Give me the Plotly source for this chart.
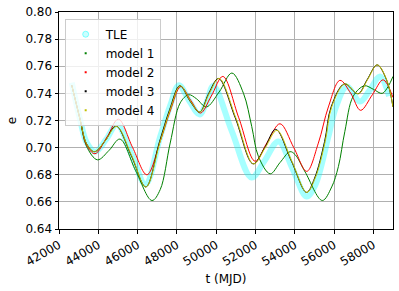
import plotly.graph_objects as go

# ---- data ----
tle_t = [42650, 43070, 43400, 43850, 44400, 44950, 45700, 46400, 47150, 47660, 48100,
         48650, 49150, 49500, 49860, 50800, 51800, 52450, 53170, 53900, 54600, 55030,
         55710, 56100, 56650, 57320, 57800, 58340, 58800]
tle_e = [0.748, 0.721, 0.704, 0.697, 0.706, 0.717, 0.695, 0.673, 0.708, 0.731, 0.746,
         0.734, 0.7245, 0.733, 0.7456, 0.712, 0.678, 0.690, 0.7046, 0.684, 0.664, 0.672,
         0.708, 0.730, 0.745, 0.734, 0.742, 0.7525, 0.738]

m1_t = [42650, 43070, 43400, 43960, 44550, 45100, 45900, 46730, 47150, 47660, 48170,
        48600, 49000, 49500, 50150, 50800, 51390, 51810, 52150, 52750, 53250, 53760,
        54020, 54530, 55400, 55880, 56220, 56550, 56980, 57550, 58000, 58450, 58750, 59000]
m1_e = [0.746, 0.721, 0.701, 0.691, 0.698, 0.7063, 0.683, 0.661, 0.669, 0.7034, 0.733,
        0.739, 0.736, 0.730, 0.741, 0.755, 0.740, 0.7156, 0.6935, 0.6807, 0.689, 0.697,
        0.6948, 0.682, 0.661, 0.671, 0.686, 0.712, 0.738, 0.7456, 0.743, 0.740, 0.745, 0.7525]

m2_t = [42650, 43070, 43400, 43830, 44450, 45020, 45750, 46475, 47150, 47660, 48200,
        48700, 49200, 49750, 50340, 51150, 51980, 52600, 53250, 53950, 54610, 55200,
        55710, 56300, 56850, 57350, 57950, 58500, 59000]
m2_e = [0.746, 0.721, 0.702, 0.6955, 0.708, 0.721, 0.700, 0.680, 0.7046, 0.727, 0.745,
        0.735, 0.7255, 0.738, 0.7525, 0.722, 0.690, 0.704, 0.7176, 0.700, 0.6825, 0.7033,
        0.730, 0.7496, 0.740, 0.7275, 0.739, 0.750, 0.737]

m3_t = [42650, 43070, 43400, 43800, 44350, 44900, 45680, 46420, 47120, 47630, 48150,
        48680, 49160, 49620, 50120, 50970, 51880, 52470, 53030, 53830, 54600, 55010,
        55520, 55850, 56530, 57220, 57680, 58190, 58670, 59000]
m3_e = [0.746, 0.721, 0.703, 0.697, 0.705, 0.716, 0.694, 0.671, 0.7046, 0.728, 0.7457,
        0.734, 0.7262, 0.740, 0.751, 0.722, 0.688, 0.700, 0.7135, 0.690, 0.667, 0.6776,
        0.7046, 0.730, 0.747, 0.7397, 0.750, 0.761, 0.750, 0.730]

m4_t = [42650, 43070, 43400, 43800, 44350, 44930, 45700, 46420, 47150, 47660, 48170,
        48700, 49170, 49650, 50150, 51000, 51900, 52500, 53090, 53850, 54610, 55040,
        55550, 55880, 56560, 57240, 57700, 58200, 58680, 59000]
m4_e = [0.746, 0.721, 0.703, 0.697, 0.705, 0.7156, 0.694, 0.671, 0.7046, 0.728, 0.7456,
        0.734, 0.7262, 0.740, 0.751, 0.722, 0.688, 0.700, 0.7127, 0.690, 0.667, 0.6776,
        0.7046, 0.730, 0.747, 0.7397, 0.750, 0.761, 0.750, 0.730]

x_ticks = [42000, 44000, 46000, 48000, 50000, 52000, 54000, 56000, 58000]
y_ticks = [0.64, 0.66, 0.68, 0.70, 0.72, 0.74, 0.76, 0.78, 0.80]
legend_names = ["TLE", "model 1", "model 2", "model 3", "model 4"]

FONT = "DejaVu Sans"
colors = ["rgba(0,255,255,0.35)", "#008000", "#ff0000", "#000000", "#bfbf00"]

fig = go.Figure()

# TLE band
fig.add_trace(go.Scatter(x=tle_t, y=tle_e, mode="lines", line=dict(color=colors[0], width=6, shape="spline"),
                         showlegend=False, hoverinfo="skip"))
series = [(m1_t, m1_e), (m2_t, m2_e), (m3_t, m3_e), (m4_t, m4_e)]
for i, (t, e) in enumerate(series):
    fig.add_trace(go.Scatter(x=t, y=e, mode="lines", line=dict(color=colors[i + 1], width=1, shape="spline"),
                             showlegend=False))

# legend entries (marker style as in reference)
fig.add_trace(go.Scatter(x=[None], y=[None], mode="markers", name=legend_names[0],
                         marker=dict(color="rgba(0,255,255,0.2)", size=6, symbol="circle",
                                     line=dict(color="rgba(0,255,255,0.45)", width=1))))
for i in range(4):
    fig.add_trace(go.Scatter(x=[None], y=[None], mode="markers", name=legend_names[i + 1],
                             marker=dict(color=colors[i + 1], size=2, symbol="square")))

axis_common = dict(showline=True, linecolor="black", linewidth=1, mirror=True,
                   ticks="outside", ticklen=3.5, tickcolor="black", tickwidth=1,
                   showgrid=True, gridcolor="#b0b0b0", gridwidth=0.8, zeroline=False,
                   automargin=False,
                   tickfont=dict(family=FONT, size=12, color="black"))

fig.update_xaxes(range=[42000, 59000], tickvals=x_ticks, ticktext=[str(v) for v in x_ticks],
                 tickangle=-30, title=dict(text="t (MJD)", font=dict(family=FONT, size=12, color="black"), standoff=6),
                 **axis_common)
fig.update_yaxes(range=[0.64, 0.80], tickvals=y_ticks, ticktext=[f"{v:.2f}" for v in y_ticks],
                 title=dict(text="e", font=dict(family=FONT, size=12, color="black"), standoff=6),
                 **axis_common)

fig.update_layout(width=399, height=291, margin=dict(l=59, r=6, t=12, b=62),
                  paper_bgcolor="white", plot_bgcolor="white",
                  font=dict(family=FONT, size=12, color="black"),
                  legend=dict(x=0.017, y=0.969, xanchor="left", yanchor="top",
                              bgcolor="rgba(255,255,255,0.8)", bordercolor="#cccccc", borderwidth=1,
                              font=dict(family=FONT, size=12, color="black"),
                              itemwidth=30, tracegroupgap=0),
                  showlegend=True)

fig.write_html("out.html", config={"displayModeBar": False},
               post_script="document.body.style.margin='0';document.body.style.padding='0';")
